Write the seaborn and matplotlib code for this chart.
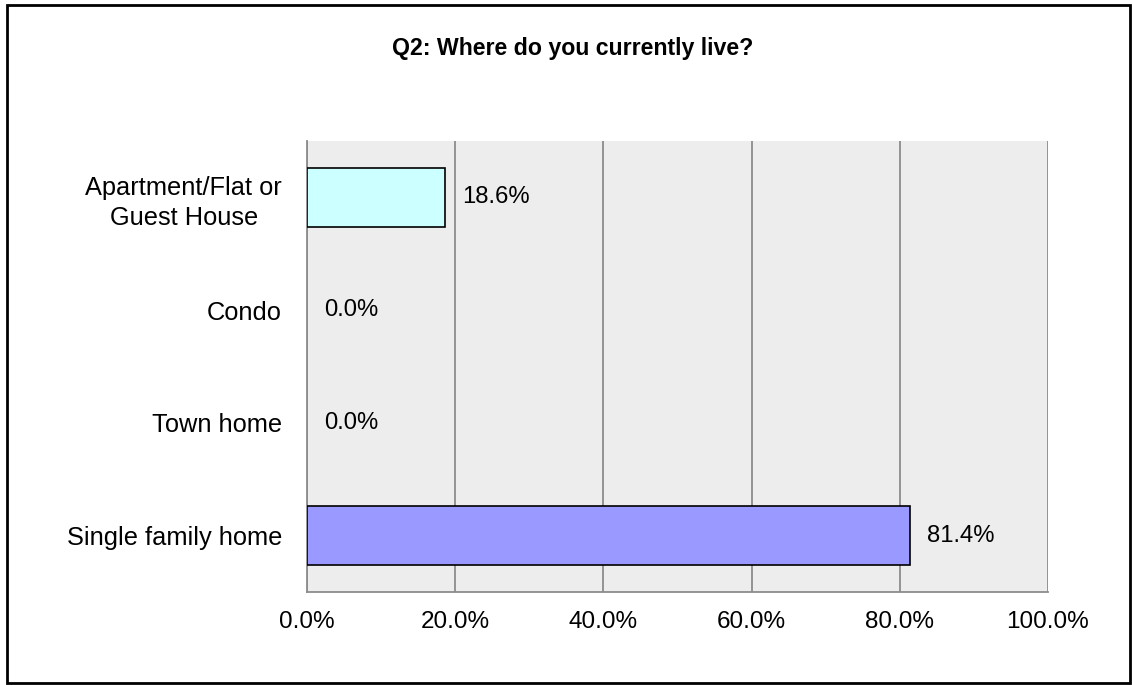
import matplotlib
matplotlib.use("Agg")
import matplotlib.pyplot as plt
import seaborn as sns
import pandas as pd
import numpy as np

categories = ["Apartment/Flat or\nGuest House", "Condo", "Town home", "Single family home"]
values = [18.6, 0.0, 0.0, 81.4]
bar_colors = ["#CCFFFF", "#CCFFFF", "#CCFFFF", "#9999FF"]
x_ticks = [0, 20, 40, 60, 80, 100]
title = "Q2: Where do you currently live?"

sns.set_style("white")
plt.rcParams['font.family'] = ['Liberation Sans', 'DejaVu Sans']
plt.rcParams['text.color'] = 'black'
plt.rcParams['xtick.color'] = 'black'
plt.rcParams['ytick.color'] = 'black'

df = pd.DataFrame({"cat": categories, "val": values})

fig = plt.figure(figsize=(11.32, 6.85), dpi=100)
ax = fig.add_axes([307/1132, 1 - 592/685, (1048-307)/1132, (592-141)/685])
ax.set_facecolor("#EDEDED")

sns.barplot(data=df, x="val", y="cat", hue="cat", palette=bar_colors, legend=False,
            saturation=1, orient="h", width=0.52, edgecolor="black", linewidth=1.2,
            ax=ax, zorder=3)
# zero-length bars show no outline
for p in ax.patches:
    if p.get_width() == 0:
        p.set_linewidth(0)

ax.set_xlim(0, 100)
ax.set_ylim(3.5, -0.5)
ax.set_xticks(x_ticks)
ax.set_xticklabels([f"{t:.1f}%" for t in x_ticks], fontsize=17.5)
ax.xaxis.grid(True, color="#8C8C8C", linewidth=1.3, zorder=1)
ax.set_axisbelow(True)
ax.set_xlabel("")
ax.set_ylabel("")
ax.tick_params(axis="y", length=0, labelsize=18.3, pad=18)
ax.set_yticks(np.arange(-0.5, 4, 1), minor=True)
ax.tick_params(axis="y", which="minor", length=8, color="#8C8C8C", width=1.3)
ax.tick_params(axis="x", length=7, color="#8C8C8C", width=1.3, pad=7)
for lbl in ax.get_yticklabels():
    lbl.set_multialignment("center")
    lbl.set_linespacing(1.32)

for s in ["top", "right"]:
    ax.spines[s].set_visible(False)
for s in ["left", "bottom"]:
    ax.spines[s].set_color("#8C8C8C")
    ax.spines[s].set_linewidth(1.3)

for i, v in enumerate(values):
    ax.text(v + 2.3, i, f"{v:.1f}%", va="center", ha="left", fontsize=17.2, zorder=4)

fig.text(573/1132, 1 - 48/685, title, ha="center", va="center", fontsize=16.7,
         fontweight="bold")

frame = plt.Rectangle((7/1132, 2/685), 1123/1132, 678/685, transform=fig.transFigure,
                      fill=False, edgecolor="black", linewidth=2)
fig.patches.append(frame)

fig.savefig("out.png", dpi=100)
